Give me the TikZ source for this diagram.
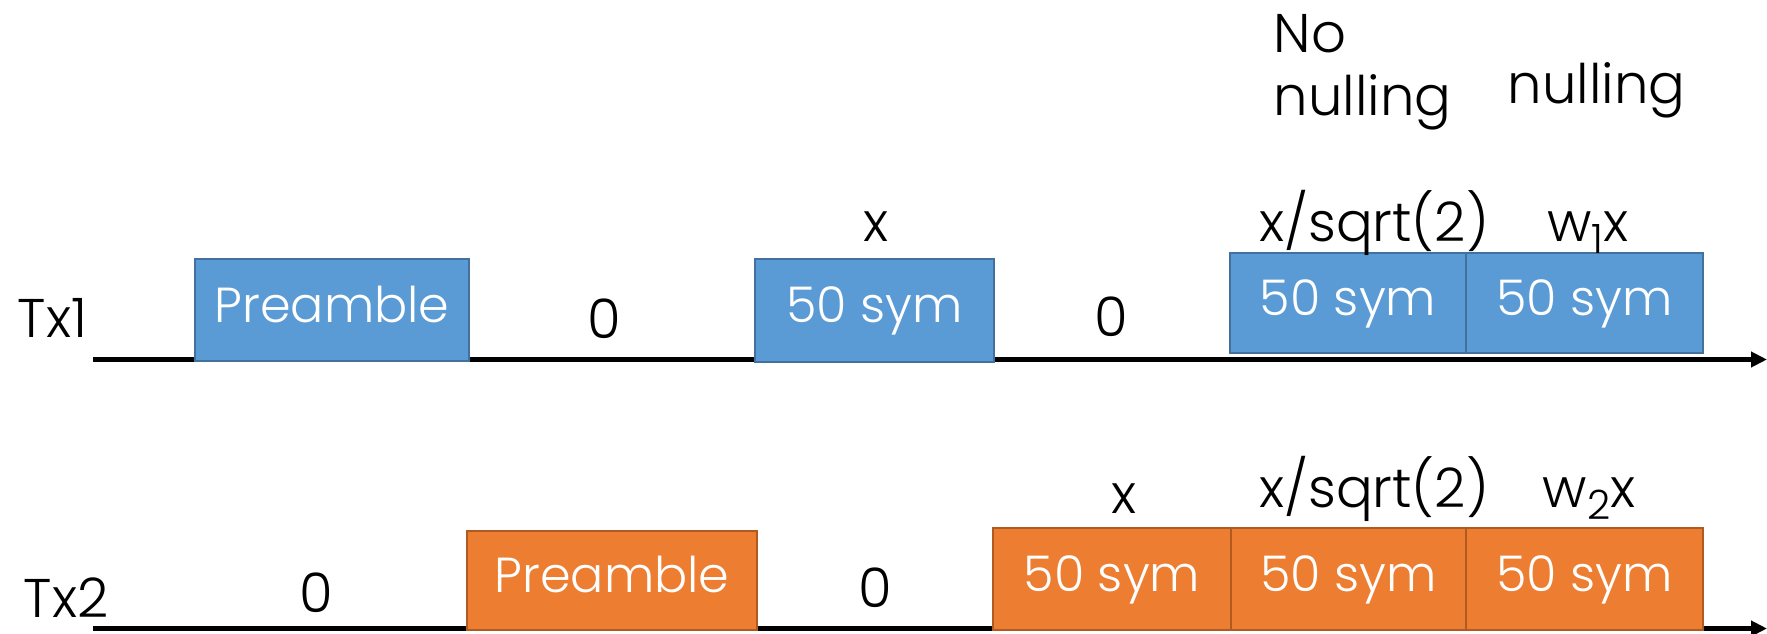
\documentclass[tikz,border=0pt]{standalone}
\usepackage{fontspec}
\setmainfont{Poppins}[UprightFont={* Light}]
\usetikzlibrary{arrows.meta}
\definecolor{boxblue}{HTML}{5B9BD5}
\definecolor{edgeblue}{HTML}{41719C}
\definecolor{boxorange}{HTML}{ED7D31}
\definecolor{edgeorange}{HTML}{AE5A21}
\newcommand\lblfont{\fontsize{15.5}{18}\selectfont}
\newcommand\boxfont{\fontsize{14}{17}\selectfont}
\newcommand\subidx[1]{\raisebox{-0.22em}{\fontsize{11.5}{12}\selectfont #1}}
\begin{document}
\begin{tikzpicture}[x=0.01cm,y=-0.01cm,
  lbl/.style={inner sep=0pt, anchor=base, font=\lblfont},
  blk/.style={draw, line width=0.6pt, inner sep=0pt, text=white, font=\boxfont,
              text height=0.7em, text depth=0pt},
  bluebox/.style={blk, fill=boxblue, draw=edgeblue},
  orangebox/.style={blk, fill=boxorange, draw=edgeorange},
  axis/.style={line width=1.45pt, -{Triangle[length=0.16cm,width=0.15cm]}}]
\useasboundingbox (0,0) rectangle (1767,634);

% time axes
\coordinate (a1s) at (93,359.5);
\coordinate (a1e) at (1767,359.5);
\coordinate (a2s) at (93,628.5);
\coordinate (a2e) at (1767,628.5);
\draw[axis] (a1s) -- (a1e);
\draw[axis] (a2s) -- (a2e);

% Tx1 blocks
\node[bluebox, minimum width=2.74cm, minimum height=1.02cm] (p1) at (332,310) {Preamble};
\node[bluebox, minimum width=2.39cm, minimum height=1.03cm] (s1) at (874.5,310.5) {50 sym};
\node[bluebox, minimum width=2.36cm, minimum height=1.00cm] (s2) at (1348,303) {50 sym};
\node[bluebox, minimum width=2.37cm, minimum height=1.00cm] (s3) at (1584.5,303) {50 sym};

% Tx2 blocks
\node[orangebox, minimum width=2.90cm, minimum height=0.99cm] (p2) at (612,580.5) {Preamble};
\node[orangebox, minimum width=2.38cm, minimum height=1.02cm] (s4) at (1112,579) {50 sym};
\node[orangebox, minimum width=2.35cm, minimum height=1.02cm] (s5) at (1348.5,579) {50 sym};
\node[orangebox, minimum width=2.37cm, minimum height=1.02cm] (s6) at (1584.5,579) {50 sym};

% row names
\node[lbl, anchor=base west] (tx1) at (17,338) {Tx1};
\node[lbl, anchor=base west] (tx2) at (23,617) {Tx2};

% Tx1 labels
\node[lbl] (z1) at (604,339) {0};
\node[lbl] (z2) at (1111.5,337) {0};
\node[lbl] (v1) at (876,242) {x};
\node[lbl] (v2) at (1374,242) {x/sqrt(2)};
\node[lbl] (v3) at (1588,242) {w\subidx{1}x};

% Tx2 labels
\node[lbl] (z3) at (316,612) {0};
\node[lbl] (z4) at (875,607) {0};
\node[lbl] (v4) at (1124,513) {x};
\node[lbl] (v5) at (1374,507) {x/sqrt(2)};
\node[lbl] (v6) at (1589,508) {w\subidx{2}x};

% column headings
\node[lbl, anchor=base west] (h1a) at (1273,53) {No};
\node[lbl, anchor=base west] (h1b) at (1273,116) {nulling};
\node[lbl, anchor=base west] (h2) at (1507,104) {nulling};
\end{tikzpicture}
\end{document}
